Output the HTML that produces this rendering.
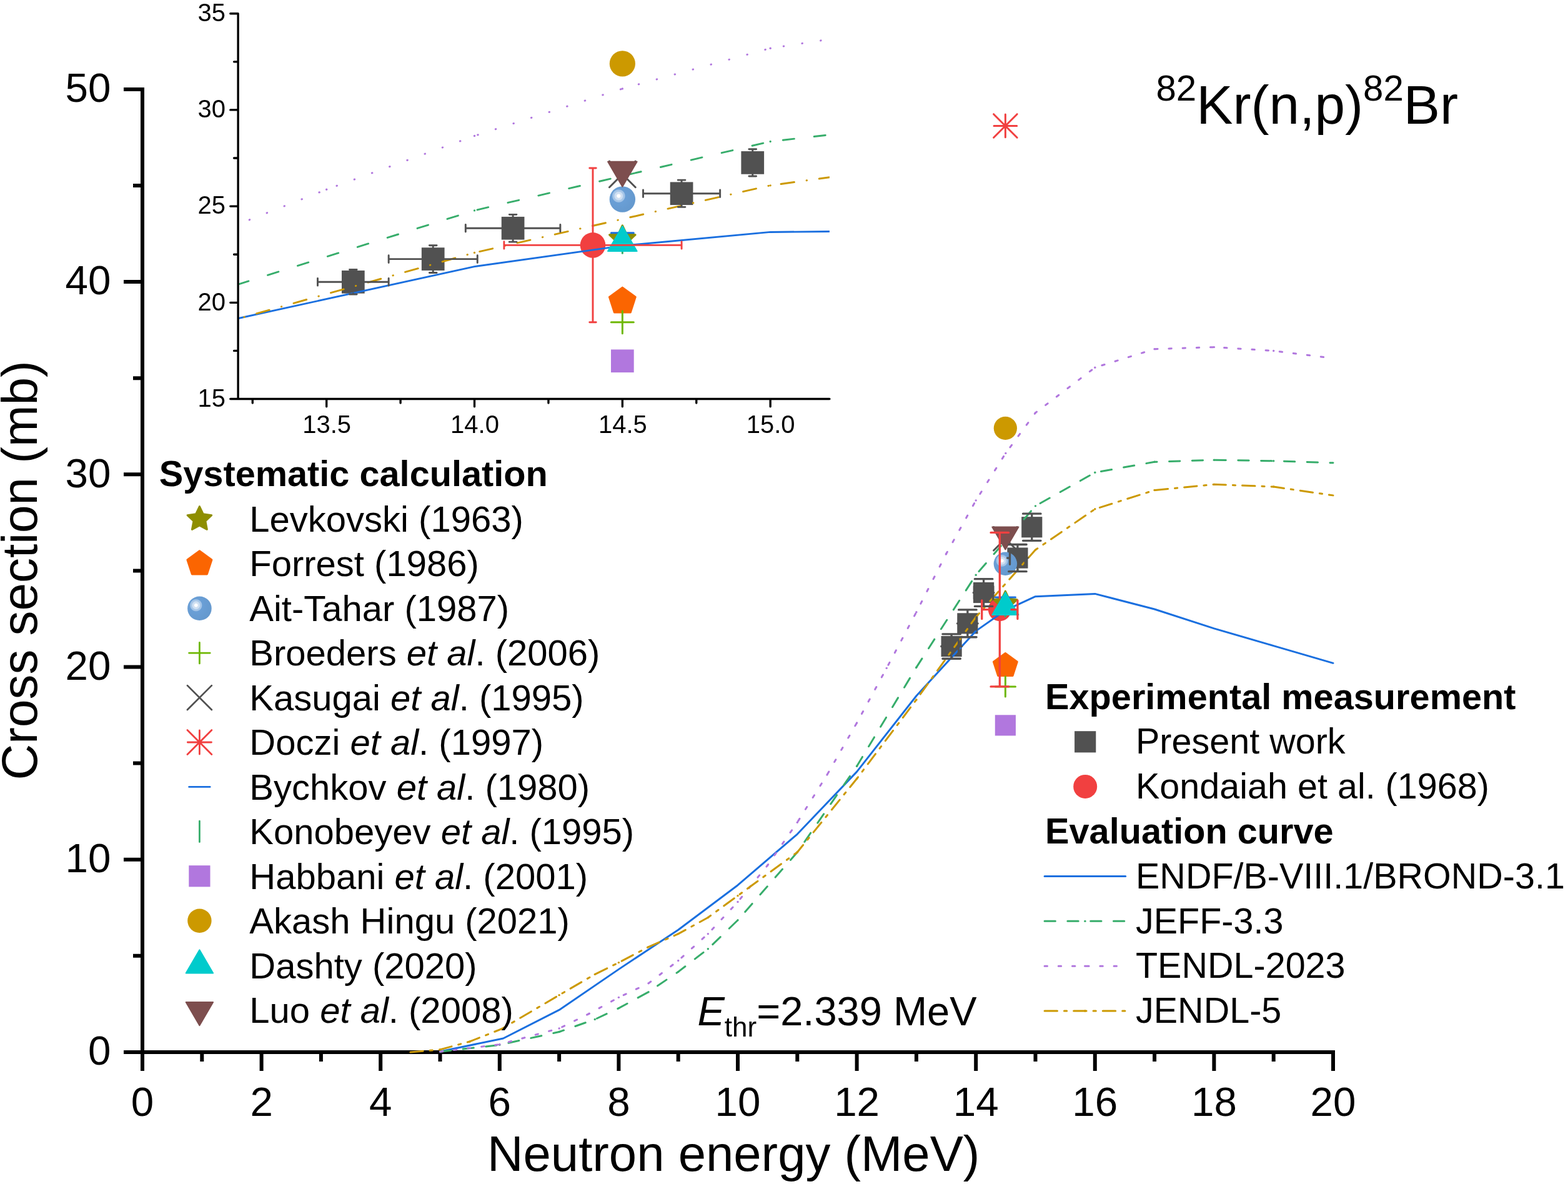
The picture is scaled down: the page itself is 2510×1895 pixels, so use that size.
<!DOCTYPE html><html><head><meta charset="utf-8"><title>82Kr(n,p)82Br cross section</title>
<style>html,body{margin:0;padding:0;background:#fff}svg{display:block}text{font-family:'Liberation Sans', sans-serif;fill:#000}</style></head><body>
<svg width="2510" height="1895" viewBox="0 0 2510 1895" role="img" aria-label="Cross section versus neutron energy for 82Kr(n,p)82Br">
<defs><radialGradient id="sph" cx="0.355" cy="0.37" r="0.7" fx="0.355" fy="0.37"><stop offset="0" stop-color="#ffffff"/><stop offset="0.09" stop-color="#ffffff"/><stop offset="0.12" stop-color="#d3e2f3"/><stop offset="0.22" stop-color="#cddef1"/><stop offset="0.25" stop-color="#a9c8e9"/><stop offset="0.335" stop-color="#a3c4e7"/><stop offset="0.37" stop-color="#6a9fd6"/><stop offset="1" stop-color="#6498cd"/></radialGradient><clipPath id="ic"><rect x="380.6" y="21.7" width="947.3" height="616.8"/></clipPath></defs>
<rect width="2510" height="1895" fill="#fff"/>
<g id="main-axes" stroke="#000" fill="none">
<path d="M228 139.9V1713.9M198 1683.9H2137M323.3 1683.9v15M418.6 1683.9v30M513.9 1683.9v15M609.2 1683.9v30M704.5 1683.9v15M799.8 1683.9v30M895.1 1683.9v15M990.4 1683.9v30M1085.7 1683.9v15M1181 1683.9v30M1276.3 1683.9v15M1371.6 1683.9v30M1466.9 1683.9v15M1562.2 1683.9v30M1657.5 1683.9v15M1752.8 1683.9v30M1848.1 1683.9v15M1943.4 1683.9v30M2038.7 1683.9v15M2134 1683.9v30M228 1529.8h-15M228 1375.7h-30M228 1221.6h-15M228 1067.5h-30M228 913.4h-15M228 759.3h-30M228 605.2h-15M228 451.1h-30M228 297h-15M228 142.9h-30" stroke-width="6"/>
</g>
<g id="main-exp">
<rect x="1506.54" y="1017.94" width="33.17" height="33.17" fill="#515151"/>
<rect x="1532.27" y="981.26" width="33.17" height="33.17" fill="#515151"/>
<rect x="1558" y="931.95" width="33.17" height="33.17" fill="#515151"/>
<rect x="1612.32" y="876.47" width="33.17" height="33.17" fill="#515151"/>
<rect x="1635.19" y="827.16" width="33.17" height="33.17" fill="#515151"/>
<circle cx="1600.32" cy="975.66" r="18.5" fill="#F14040"/>
</g>
<g id="main-curves">
<path d="M704.5 1682.98L805.52 1662.02L895.1 1616.4L990.4 1551.37L1085.7 1488.19L1181 1416.69L1276.3 1335.02L1371.6 1235.16L1466.9 1113.73L1562.2 1009.87L1609.85 976.58L1657.5 954.7L1752.8 950.38L1848.1 975.04L1943.4 1005.86L2038.7 1033.6L2134 1061.34" fill="none" stroke="#1A6FDF" stroke-width="3.0" stroke-linejoin="round" stroke-linecap="round"/>
<path d="M704.5 1683.28L799.8 1672.34L895.1 1651.54L952.28 1631.51L990.4 1613.63L1038.05 1587.74L1085.7 1555.38L1133.35 1518.7L1181 1472.78L1276.3 1363.99L1371.6 1226.22L1466.9 1068.12L1562.2 920.18L1657.5 809.84L1752.8 756.22L1848.1 739.27L1943.4 736.19L2038.7 737.73L2134 740.81" fill="none" stroke="#37AD6B" stroke-width="3.0" stroke-linejoin="round" stroke-linecap="round" stroke-dasharray="17.3 19.5" stroke-dashoffset="0"/><g fill="#37AD6B"><circle cx="799.8" cy="1672.34" r="1.7"/><circle cx="895.1" cy="1651.54" r="1.7"/><circle cx="952.28" cy="1631.51" r="1.7"/><circle cx="990.4" cy="1613.63" r="1.7"/><circle cx="1038.05" cy="1587.74" r="1.7"/><circle cx="1085.7" cy="1555.38" r="1.7"/><circle cx="1133.35" cy="1518.7" r="1.7"/><circle cx="1181" cy="1472.78" r="1.7"/><circle cx="1276.3" cy="1363.99" r="1.7"/><circle cx="1371.6" cy="1226.22" r="1.7"/><circle cx="1466.9" cy="1068.12" r="1.7"/><circle cx="1562.2" cy="920.18" r="1.7"/><circle cx="1657.5" cy="809.84" r="1.7"/><circle cx="1752.8" cy="756.22" r="1.7"/><circle cx="1848.1" cy="739.27" r="1.7"/><circle cx="1943.4" cy="736.19" r="1.7"/><circle cx="2038.7" cy="737.73" r="1.7"/></g>
<path d="M704.5 1683.28L799.8 1671.57L895.1 1645.99L942.75 1622.57L990.4 1596.37L1038.05 1573.87L1085.7 1537.51L1133.35 1494.67L1181 1443.5L1228.65 1384.95L1276.3 1316.22L1323.95 1240.09L1371.6 1156.88L1419.25 1069.35L1466.9 979.66L1514.55 886.59L1562.2 800.91L1609.85 725.4L1657.5 660.68L1752.8 588.25L1848.1 558.66L1943.4 555.58L2038.7 561.44L2134 573.46" fill="none" stroke="#B177DE" stroke-width="3.0" stroke-linejoin="round" stroke-linecap="round" stroke-dasharray="4.4 17.8" stroke-dashoffset="0"/><g fill="#B177DE"><circle cx="799.8" cy="1671.57" r="1.7"/><circle cx="895.1" cy="1645.99" r="1.7"/><circle cx="942.75" cy="1622.57" r="1.7"/><circle cx="990.4" cy="1596.37" r="1.7"/><circle cx="1038.05" cy="1573.87" r="1.7"/><circle cx="1085.7" cy="1537.51" r="1.7"/><circle cx="1133.35" cy="1494.67" r="1.7"/><circle cx="1181" cy="1443.5" r="1.7"/><circle cx="1228.65" cy="1384.95" r="1.7"/><circle cx="1276.3" cy="1316.22" r="1.7"/><circle cx="1323.95" cy="1240.09" r="1.7"/><circle cx="1371.6" cy="1156.88" r="1.7"/><circle cx="1419.25" cy="1069.35" r="1.7"/><circle cx="1466.9" cy="979.66" r="1.7"/><circle cx="1514.55" cy="886.59" r="1.7"/><circle cx="1562.2" cy="800.91" r="1.7"/><circle cx="1609.85" cy="725.4" r="1.7"/><circle cx="1657.5" cy="660.68" r="1.7"/><circle cx="1752.8" cy="588.25" r="1.7"/><circle cx="1848.1" cy="558.66" r="1.7"/><circle cx="1943.4" cy="555.58" r="1.7"/><circle cx="2038.7" cy="561.44" r="1.7"/></g>
<path d="M656.85 1683.9L704.5 1679.89L752.15 1666.95L802.66 1646.92L895.1 1592.67L952.28 1559.39L990.4 1540.59L1038.05 1515.62L1085.7 1494.67L1133.35 1468.47L1181 1433.64L1276.3 1363.99L1371.6 1246.26L1466.9 1119.89L1562.2 987.68L1657.5 880.11L1752.8 814.78L1848.1 784.57L1943.4 775.33L2038.7 779.02L2134 792.89" fill="none" stroke="#CC9900" stroke-width="3.0" stroke-linejoin="round" stroke-linecap="round" stroke-dasharray="20.4 11 4.2 11" stroke-dashoffset="0"/><g fill="#CC9900"><circle cx="704.5" cy="1679.89" r="1.7"/><circle cx="752.15" cy="1666.95" r="1.7"/><circle cx="802.66" cy="1646.92" r="1.7"/><circle cx="895.1" cy="1592.67" r="1.7"/><circle cx="952.28" cy="1559.39" r="1.7"/><circle cx="990.4" cy="1540.59" r="1.7"/><circle cx="1038.05" cy="1515.62" r="1.7"/><circle cx="1085.7" cy="1494.67" r="1.7"/><circle cx="1133.35" cy="1468.47" r="1.7"/><circle cx="1181" cy="1433.64" r="1.7"/><circle cx="1276.3" cy="1363.99" r="1.7"/><circle cx="1371.6" cy="1246.26" r="1.7"/><circle cx="1466.9" cy="1119.89" r="1.7"/><circle cx="1562.2" cy="987.68" r="1.7"/><circle cx="1657.5" cy="880.11" r="1.7"/><circle cx="1752.8" cy="814.78" r="1.7"/><circle cx="1848.1" cy="784.57" r="1.7"/><circle cx="1943.4" cy="775.33" r="1.7"/><circle cx="2038.7" cy="779.02" r="1.7"/></g>
</g>
<g id="main-sys">
<path d="M1609.37 946.1L1615.04 957.99L1628.1 959.71L1618.55 968.78L1620.95 981.72L1609.37 975.44L1597.8 981.72L1600.2 968.78L1590.65 959.71L1603.7 957.99Z" fill="#8E8E00" stroke="#8E8E00" stroke-width="3" stroke-linejoin="round"/>
<path d="M1609.37 1045.46L1628.29 1059.2L1621.06 1081.43L1597.69 1081.43L1590.46 1059.2Z" fill="#FB6501" stroke="#FB6501" stroke-width="3" stroke-linejoin="round"/>
<circle cx="1609.37" cy="902.3" r="18.72" fill="url(#sph)"/>
<path d="M1593.27 1098.94H1625.48M1609.37 1082.83V1115.04" stroke="#6FB802" stroke-width="3.0" stroke-linecap="round" fill="none"/>
<path d="M1590.6 843.47L1628.14 881.01M1590.6 881.01L1628.14 843.47" stroke="#515151" stroke-width="3.0" stroke-linecap="round" fill="none"/>
<path d="M1590.6 182.69L1628.14 220.23M1590.6 220.23L1628.14 182.69M1591.04 201.46H1627.71M1609.37 183.12V219.79" stroke="#F14040" stroke-width="3.0" stroke-linecap="round" fill="none"/>
<path d="M1593.27 955.93H1625.48" stroke="#1A6FDF" stroke-width="3.0" stroke-linecap="round" fill="none"/>
<path d="M1609.37 954.31V986.52" stroke="#37AD6B" stroke-width="3.0" stroke-linecap="round" fill="none"/>
<rect x="1592.79" y="1144.3" width="33.17" height="33.17" fill="#B177DE"/>
<circle cx="1609.37" cy="685.33" r="18.62" fill="#CC9900"/>
<path d="M1609.37 947.9L1630.42 983.99L1588.32 983.99Z" fill="#00CBCC" stroke="#00CBCC" stroke-width="2" stroke-linejoin="round"/>
<path d="M1609.37 879.51L1630.42 843.43L1588.32 843.43Z" fill="#7D4E4E" stroke="#7D4E4E" stroke-width="2" stroke-linejoin="round"/>
</g>
<g id="main-err">
<path d="M1523.13 1018.12V1014.8M1508.88 1014.8h28.5M1506.73 1034.52H1511.69M1511.69 1024.32v20.4M1523.13 1050.92V1054.25M1508.88 1054.25h28.5M1539.53 1034.52H1534.56M1534.56 1024.32v20.4" stroke="#515151" stroke-width="3.3" stroke-linecap="round" fill="none"/>
<path d="M1548.86 981.45V975.96M1534.61 975.96h28.5M1532.46 997.85H1534.56M1534.56 987.65v20.4M1548.86 1014.25V1019.73M1534.61 1019.73h28.5M1565.26 997.85H1563.15M1563.15 987.65v20.4" stroke="#515151" stroke-width="3.3" stroke-linecap="round" fill="none"/>
<path d="M1574.59 932.13V926.65M1560.34 926.65h28.5M1558.19 948.53H1559.34M1559.34 938.33v20.4M1574.59 964.93V970.42M1560.34 970.42h28.5M1590.99 948.53H1589.84M1589.84 938.33v20.4" stroke="#515151" stroke-width="3.3" stroke-linecap="round" fill="none"/>
<path d="M1628.91 876.66V871.48M1614.66 871.48h28.5M1612.51 893.06H1616.52M1616.52 882.86v20.4M1628.91 909.46V914.63M1614.66 914.63h28.5M1645.31 893.06H1641.3M1641.3 882.86v20.4" stroke="#515151" stroke-width="3.3" stroke-linecap="round" fill="none"/>
<path d="M1651.78 827.35V822.17M1637.53 822.17h28.5M1651.78 860.15V865.32M1637.53 865.32h28.5" stroke="#515151" stroke-width="3.3" stroke-linecap="round" fill="none"/>
<path d="M1600.32 957.06V852.38M1586.02 852.38h28.6M1581.72 975.66H1571.73M1571.73 960.81v29.7M1600.32 994.26V1098.94M1586.02 1098.94h28.6M1618.92 975.66H1628.91M1628.91 960.81v29.7" stroke="#F14040" stroke-width="3.3" stroke-linecap="round" fill="none"/>
</g>
<g id="main-ticklabels" font-size="65.5">
<text x="228" y="1785.5" text-anchor="middle">0</text>
<text x="418.6" y="1785.5" text-anchor="middle">2</text>
<text x="609.2" y="1785.5" text-anchor="middle">4</text>
<text x="799.8" y="1785.5" text-anchor="middle">6</text>
<text x="990.4" y="1785.5" text-anchor="middle">8</text>
<text x="1181" y="1785.5" text-anchor="middle">10</text>
<text x="1371.6" y="1785.5" text-anchor="middle">12</text>
<text x="1562.2" y="1785.5" text-anchor="middle">14</text>
<text x="1752.8" y="1785.5" text-anchor="middle">16</text>
<text x="1943.4" y="1785.5" text-anchor="middle">18</text>
<text x="2134" y="1785.5" text-anchor="middle">20</text>
<text x="177.4" y="1704.2" text-anchor="end">0</text>
<text x="177.4" y="1396" text-anchor="end">10</text>
<text x="177.4" y="1087.8" text-anchor="end">20</text>
<text x="177.4" y="779.6" text-anchor="end">30</text>
<text x="177.4" y="471.4" text-anchor="end">40</text>
<text x="177.4" y="163.2" text-anchor="end">50</text>
</g>
<text x="780" y="1873.5" font-size="79.7">Neutron energy (MeV)</text>
<text transform="translate(58.5 912.9) rotate(-90)" font-size="80" text-anchor="middle">Cross section (mb)</text>
<text x="1850.5" y="198" font-size="87.3"><tspan font-size="58.2" dy="-36.6">82</tspan><tspan dy="36.6">Kr(n,p)</tspan><tspan font-size="58.2" dy="-36.6">82</tspan><tspan dy="36.6">Br</tspan></text>
<text x="1116.5" y="1641.4" font-size="65"><tspan font-style="italic">E</tspan><tspan font-size="44" dy="17.5">thr</tspan><tspan dy="-17.5">=2.339 MeV</tspan></text>
<g id="inset">
<g clip-path="url(#ic)">
<rect x="546.98" y="432.95" width="36.7" height="36.7" fill="#515151"/>
<rect x="674.86" y="396.25" width="36.7" height="36.7" fill="#515151"/>
<rect x="802.75" y="346.91" width="36.7" height="36.7" fill="#515151"/>
<rect x="1072.73" y="291.4" width="36.7" height="36.7" fill="#515151"/>
<rect x="1186.4" y="242.05" width="36.7" height="36.7" fill="#515151"/>
<circle cx="948.98" cy="392.4" r="20.3" fill="#F14040"/>
<path d="M380.6 509.77L759.52 426.63L996.35 393.32L1233.17 371.43L1327.9 370.56" fill="none" stroke="#1A6FDF" stroke-width="2.9" stroke-linejoin="round" stroke-linecap="round"/>
<path d="M380.6 455.31L759.52 336.88L1233.17 226.48L1327.9 215.75" fill="none" stroke="#37AD6B" stroke-width="2.9" stroke-linejoin="round" stroke-linecap="round" stroke-dasharray="18.2 32" stroke-dashoffset="0"/><g fill="#37AD6B"><circle cx="759.52" cy="336.88" r="1.65"/><circle cx="1233.17" cy="226.48" r="1.65"/></g>
<path d="M380.6 359.15L522.7 303.27L759.52 217.53L996.35 141.98L1233.17 77.21L1327.9 62.72" fill="none" stroke="#B177DE" stroke-width="3.0" stroke-linejoin="round" stroke-linecap="round" stroke-dasharray="0.5 29.5" stroke-dashoffset="-20"/><g fill="#B177DE"><circle cx="522.7" cy="303.27" r="1.7"/><circle cx="759.52" cy="217.53" r="1.7"/><circle cx="996.35" cy="141.98" r="1.7"/><circle cx="1233.17" cy="77.21" r="1.7"/></g>
<path d="M380.6 510.27L759.52 404.42L1233.17 296.79L1327.9 283.72" fill="none" stroke="#CC9900" stroke-width="2.9" stroke-linejoin="round" stroke-linecap="round" stroke-dasharray="21.5 19.9 0.5 19.9" stroke-dashoffset="-31"/><g fill="#CC9900"><circle cx="759.52" cy="404.42" r="1.65"/><circle cx="1233.17" cy="296.79" r="1.65"/></g>
<path d="M996.35 360.75L1002.62 373.89L1017.06 375.8L1006.5 385.83L1009.15 400.15L996.35 393.2L983.54 400.15L986.19 385.83L975.63 375.8L990.07 373.89Z" fill="#8E8E00" stroke="#8E8E00" stroke-width="3" stroke-linejoin="round"/>
<path d="M996.35 460.14L1017.26 475.34L1009.27 499.94L983.42 499.94L975.43 475.34Z" fill="#FB6501" stroke="#FB6501" stroke-width="3" stroke-linejoin="round"/>
<circle cx="996.35" cy="319" r="20.71" fill="url(#sph)"/>
<path d="M978.37 515.76H1014.32M996.35 497.78V533.73" stroke="#6FB802" stroke-width="3.0" stroke-linecap="round" fill="none"/>
<path d="M975.47 258.03L1017.22 299.78M975.47 299.78L1017.22 258.03" stroke="#515151" stroke-width="3.0" stroke-linecap="round" fill="none"/>
<path d="M978.37 372.66H1014.32" stroke="#1A6FDF" stroke-width="3.0" stroke-linecap="round" fill="none"/>
<path d="M996.35 369.18V405.13" stroke="#37AD6B" stroke-width="3.0" stroke-linecap="round" fill="none"/>
<rect x="978" y="559.4" width="36.7" height="36.7" fill="#B177DE"/>
<circle cx="996.35" cy="101.88" r="20.6" fill="#CC9900"/>
<path d="M996.35 362.09L1019.63 402L973.06 402Z" fill="#00CBCC" stroke="#00CBCC" stroke-width="2" stroke-linejoin="round"/>
<path d="M996.35 298.73L1019.63 258.82L973.06 258.82Z" fill="#7D4E4E" stroke="#7D4E4E" stroke-width="2" stroke-linejoin="round"/>
<path d="M565.32 433V431.56M559.47 431.56h11.7M547.02 451.3H508.49M508.49 445.45v11.7M565.32 469.6V471.04M559.47 471.04h11.7M583.62 451.3H622.16M622.16 445.45v11.7" stroke="#515151" stroke-width="2.9" stroke-linecap="round" fill="none"/>
<path d="M693.21 396.3V392.71M687.36 392.71h11.7M674.91 414.6H622.16M622.16 408.75v11.7M693.21 432.9V436.5M687.36 436.5h11.7M711.51 414.6H764.26M764.26 408.75v11.7" stroke="#515151" stroke-width="2.9" stroke-linecap="round" fill="none"/>
<path d="M821.09 346.96V343.36M815.24 343.36h11.7M802.79 365.26H745.31M745.31 359.41v11.7M821.09 383.56V387.15M815.24 387.15h11.7M839.39 365.26H896.88M896.88 359.41v11.7" stroke="#515151" stroke-width="2.9" stroke-linecap="round" fill="none"/>
<path d="M1091.07 291.45V288.16M1085.22 288.16h11.7M1072.77 309.75H1029.5M1029.5 303.9v11.7M1091.07 328.05V331.33M1085.22 331.33h11.7M1109.37 309.75H1152.65M1152.65 303.9v11.7" stroke="#515151" stroke-width="2.9" stroke-linecap="round" fill="none"/>
<path d="M1204.75 242.1V238.81M1198.9 238.81h11.7M1204.75 278.7V281.99M1198.9 281.99h11.7" stroke="#515151" stroke-width="2.9" stroke-linecap="round" fill="none"/>
<path d="M948.98 372.4V269.04M943.73 269.04h10.5M928.98 392.4H806.89M806.89 386.65v11.5M948.98 412.4V515.76M943.73 515.76h10.5M968.98 392.4H1091.08M1091.08 386.65v11.5" stroke="#F14040" stroke-width="2.9" stroke-linecap="round" fill="none"/>
</g>
<path d="M381.1 21.7V638.5M368.78 638.5H1327.9M404.28 638.5v6.52M522.7 638.5v12.32M641.11 638.5v6.52M759.52 638.5v12.32M877.93 638.5v6.52M996.35 638.5v12.32M1114.76 638.5v6.52M1233.17 638.5v12.32M381.1 561.4h-6.52M381.1 484.3h-12.32M381.1 407.2h-6.52M381.1 330.1h-12.32M381.1 253h-6.52M381.1 175.9h-12.32M381.1 98.8h-6.52M381.1 21.7h-12.32" stroke="#000" stroke-width="3.35" fill="none" stroke-linecap="round"/>
<g font-size="40">
<text x="523.2" y="692.5" text-anchor="middle">13.5</text>
<text x="760.02" y="692.5" text-anchor="middle">14.0</text>
<text x="996.85" y="692.5" text-anchor="middle">14.5</text>
<text x="1233.67" y="692.5" text-anchor="middle">15.0</text>
<text x="360.9" y="650.8" text-anchor="end">15</text>
<text x="360.9" y="496.6" text-anchor="end">20</text>
<text x="360.9" y="342.4" text-anchor="end">25</text>
<text x="360.9" y="188.2" text-anchor="end">30</text>
<text x="360.9" y="34" text-anchor="end">35</text>
</g>
</g>
<g id="legend-left" font-size="58">
<text x="254.8" y="777.6" font-weight="bold" font-size="57.7">Systematic calculation</text>
<path d="M319.4 810.6L325.25 822.85L338.71 824.63L328.86 833.97L331.33 847.32L319.4 840.85L307.47 847.32L309.94 833.97L300.09 824.63L313.55 822.85Z" fill="#8E8E00" stroke="#8E8E00" stroke-width="3" stroke-linejoin="round"/>
<text x="399.3" y="850.8">Levkovski (1963)</text>
<path d="M319.4 881.82L338.9 895.99L331.45 918.9L307.35 918.9L299.9 895.99Z" fill="#FB6501" stroke="#FB6501" stroke-width="3" stroke-linejoin="round"/>
<text x="399.3" y="922.28">Forrest (1986)</text>
<circle cx="319.4" cy="973.74" r="19.3" fill="url(#sph)"/>
<text x="399.3" y="993.76">Ait-Tahar (1987)</text>
<path d="M302.65 1045.16H336.15M319.4 1028.41V1061.91" stroke="#6FB802" stroke-width="2.8" stroke-linecap="round" fill="none"/>
<text x="399.3" y="1065.24">Broeders <tspan font-style="italic">et al</tspan>. (2006)</text>
<path d="M299.94 1097.12L338.86 1136.04M299.94 1136.04L338.86 1097.12" stroke="#515151" stroke-width="2.8" stroke-linecap="round" fill="none"/>
<text x="399.3" y="1136.72">Kasugai <tspan font-style="italic">et al</tspan>. (1995)</text>
<path d="M299.94 1168.54L338.86 1207.46M299.94 1207.46L338.86 1168.54M300.35 1188H338.45M319.4 1168.95V1207.05" stroke="#F14040" stroke-width="2.8" stroke-linecap="round" fill="none"/>
<text x="399.3" y="1208.2">Doczi <tspan font-style="italic">et al</tspan>. (1997)</text>
<path d="M302.65 1259.42H336.15" stroke="#1A6FDF" stroke-width="2.8" stroke-linecap="round" fill="none"/>
<text x="399.3" y="1279.68">Bychkov <tspan font-style="italic">et al</tspan>. (1980)</text>
<path d="M319.4 1314.09V1347.59" stroke="#37AD6B" stroke-width="2.8" stroke-linecap="round" fill="none"/>
<text x="399.3" y="1351.16">Konobeyev <tspan font-style="italic">et al</tspan>. (1995)</text>
<rect x="302.3" y="1385.16" width="34.2" height="34.2" fill="#B177DE"/>
<text x="399.3" y="1422.64">Habbani <tspan font-style="italic">et al</tspan>. (2001)</text>
<circle cx="319.4" cy="1473.68" r="19.2" fill="#CC9900"/>
<text x="399.3" y="1494.12">Akash Hingu (2021)</text>
<path d="M319.4 1520.3L341.1 1557.5L297.7 1557.5Z" fill="#00CBCC" stroke="#00CBCC" stroke-width="2" stroke-linejoin="round"/>
<text x="399.3" y="1565.6">Dashty (2020)</text>
<path d="M319.4 1641.32L341.1 1604.12L297.7 1604.12Z" fill="#7D4E4E" stroke="#7D4E4E" stroke-width="2" stroke-linejoin="round"/>
<text x="399.3" y="1637.08">Luo <tspan font-style="italic">et al</tspan>. (2008)</text>
</g>
<g id="legend-right" font-size="57.5">
<text x="1673" y="1134.7" font-weight="bold" font-size="57.7">Experimental measurement</text>
<rect x="1720.1" y="1170.19" width="34.2" height="34.2" fill="#515151"/>
<text x="1818" y="1206.49">Present work</text>
<circle cx="1737.2" cy="1258.88" r="19" fill="#F14040"/>
<text x="1818" y="1278.28">Kondaiah et al. (1968)</text>
<text x="1673" y="1350.07" font-weight="bold" font-size="57.7">Evaluation curve</text>
<path d="M1672.1 1402.56L1736.9 1402.56L1801.7 1402.56" fill="none" stroke="#1A6FDF" stroke-width="3.0" stroke-linejoin="round" stroke-linecap="round"/>
<text x="1818" y="1421.86">ENDF/B-VIII.1/BROND-3.1</text>
<path d="M1672.1 1474.35L1736.9 1474.35L1801.7 1474.35" fill="none" stroke="#37AD6B" stroke-width="3.0" stroke-linejoin="round" stroke-linecap="round" stroke-dasharray="17.3 19.5" stroke-dashoffset="0"/><g fill="#37AD6B"><circle cx="1736.9" cy="1474.35" r="1.7"/></g>
<text x="1818" y="1493.65">JEFF-3.3</text>
<path d="M1672.1 1546.14L1736.9 1546.14L1801.7 1546.14" fill="none" stroke="#B177DE" stroke-width="3.0" stroke-linejoin="round" stroke-linecap="round" stroke-dasharray="4.4 17.8" stroke-dashoffset="0"/><g fill="#B177DE"><circle cx="1736.9" cy="1546.14" r="1.7"/></g>
<text x="1818" y="1565.44">TENDL-2023</text>
<path d="M1672.1 1617.93L1736.9 1617.93L1801.7 1617.93" fill="none" stroke="#CC9900" stroke-width="3.0" stroke-linejoin="round" stroke-linecap="round" stroke-dasharray="20.4 11 4.2 11" stroke-dashoffset="0"/><g fill="#CC9900"><circle cx="1736.9" cy="1617.93" r="1.7"/></g>
<text x="1818" y="1637.23">JENDL-5</text>
</g>
</svg></body></html>
